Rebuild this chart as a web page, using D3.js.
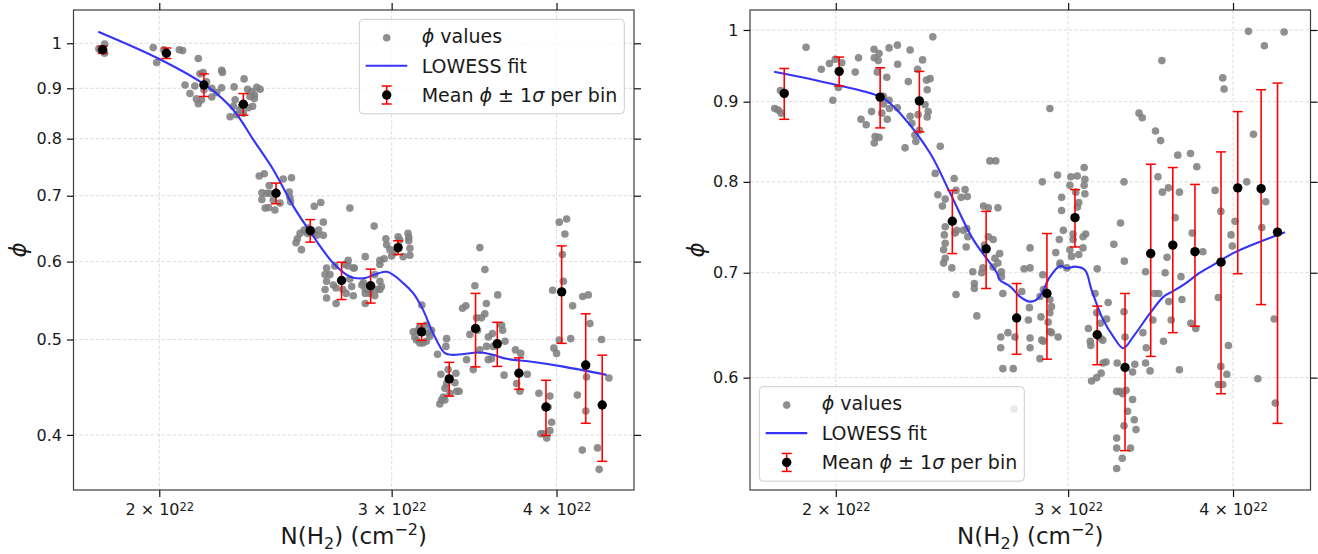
<!DOCTYPE html>
<html>
<head>
<meta charset="utf-8">
<script src="https://cdn.jsdelivr.net/npm/d3@7"></script>
<style>
  body { margin: 0; background: #fff; }
  text { font-family: "DejaVu Sans", sans-serif; }
</style>
</head>
<body>
<svg id="chart" width="1318" height="554"></svg>
<script>
// N(H2) in units of 1e22 cm^-2, phi dimensionless

var xTicks = [2, 3, 4];
var leftYTicks = [0.4, 0.5, 0.6, 0.7, 0.8, 0.9, 1];
var rightYTicks = [0.6, 0.7, 0.8, 0.9, 1];

// ---- left panel ----
var leftPoints = [
  [1.800,0.987],[1.818,0.998],[1.818,0.977],[1.805,0.985],
  [1.979,0.990],[1.991,0.956],[2.071,0.985],[2.083,0.983],[2.016,0.985],
  [2.141,0.965],[2.092,0.907],[2.110,0.889],[2.128,0.905],[2.147,0.931],[2.159,0.934],[2.153,0.876],[2.141,0.868],
  [2.172,0.914],[2.192,0.900],[2.192,0.882],[2.211,0.891],[2.230,0.939],[2.233,0.934],[2.230,0.901],[2.134,0.878],[2.162,0.897],
  [2.279,0.903],[2.319,0.920],[2.333,0.898],[2.371,0.902],[2.343,0.883],[2.361,0.886],[2.354,0.863],[2.336,0.860],
  [2.302,0.856],[2.283,0.876],[2.276,0.863],[2.263,0.842],[2.289,0.846],[2.316,0.849],[2.309,0.863],[2.361,0.879],[2.385,0.898],[2.350,0.893],
  [2.381,0.733],[2.402,0.737],[2.392,0.705],[2.423,0.717],[2.392,0.694],[2.406,0.680],[2.420,0.681],[2.447,0.677],[2.469,0.688],
  [2.483,0.728],[2.519,0.730],[2.509,0.706],[2.512,0.697],[2.515,0.690],[2.426,0.704],[2.440,0.693],[2.413,0.704],
  [2.621,0.683],[2.651,0.689],[2.663,0.658],[2.557,0.641],[2.545,0.633],[2.539,0.627],[2.563,0.617],[2.575,0.646],
  [2.590,0.641],[2.618,0.641],[2.641,0.646],[2.663,0.638],[2.633,0.638],[2.594,0.649],
  [2.789,0.680],[2.910,0.652],
  [2.678,0.591],[2.671,0.582],[2.678,0.573],[2.671,0.562],[2.678,0.551],[2.723,0.544],[2.723,0.564],[2.755,0.562],[2.771,0.557],
  [2.710,0.568],[2.806,0.591],[2.848,0.568],[2.865,0.562],[2.888,0.557],[2.913,0.554],[2.939,0.562],[2.939,0.573],[2.865,0.544],
  [2.806,0.554],[2.798,0.566],[2.789,0.576],[2.694,0.582],[2.781,0.594],[2.939,0.596],[2.913,0.582],[2.717,0.594],[2.765,0.596],
  [2.856,0.571],[2.865,0.557],[2.888,0.560],[2.921,0.562],[2.947,0.566],
  [2.970,0.633],[2.974,0.624],[2.991,0.617],[3.000,0.608],[2.961,0.604],[3.034,0.636],[3.043,0.631],[3.087,0.641],[3.091,0.635],
  [3.091,0.630],[3.097,0.619],[3.097,0.609],[3.061,0.607],[3.017,0.613],[2.939,0.602],[2.865,0.607],[2.781,0.602],[2.811,0.591],
  [3.499,0.620],[3.530,0.589],[4.019,0.658],[4.071,0.663],[4.059,0.640],[4.041,0.610],
  [3.142,0.511],[3.133,0.4995],[3.115,0.509],[3.187,0.498],[3.207,0.504],[3.216,0.511],[3.198,0.508],[3.162,0.542],[3.185,0.517],
  [3.124,0.503],[3.151,0.496],[3.169,0.496],[3.151,0.515],
  [3.302,0.501],[3.269,0.461],[3.292,0.446],[3.283,0.437],[3.263,0.430],[3.292,0.434],[3.321,0.441],[3.360,0.443],[3.375,0.443],
  [3.350,0.452],[3.356,0.462],[3.302,0.451],[3.250,0.483],[3.298,0.492],[3.273,0.434],[3.311,0.466],
  [3.469,0.567],[3.610,0.555],[3.415,0.541],[3.395,0.538],[3.530,0.531],[3.539,0.544],[3.509,0.526],[3.479,0.526],[3.439,0.506],
  [3.485,0.511],[3.551,0.503],[3.577,0.507],[3.635,0.517],[3.641,0.511],[3.656,0.498],[3.582,0.492],[3.499,0.488],[3.540,0.492],
  [3.551,0.477],[3.419,0.477],[3.459,0.466],[3.650,0.460],[3.571,0.478],[3.723,0.488],[3.758,0.484],[3.801,0.461],[3.731,0.451],[3.752,0.443],
  [3.879,0.441],[3.954,0.438],[3.942,0.427],[3.891,0.401],[3.966,0.412],[3.932,0.397],[3.954,0.404],[3.909,0.401],
  [3.973,0.561],[3.982,0.490],[4.000,0.484],[4.019,0.4995],[4.048,0.573],[4.100,0.501],[4.114,0.541],[4.148,0.439],
  [4.187,0.553],[4.228,0.555],[4.240,0.519],[4.215,0.458],[4.210,0.423],[4.184,0.386],[4.297,0.388],[4.309,0.369],
  [4.327,0.500],[4.383,0.457]
];
var leftBinN    = [1.812,2.025,2.162,2.316,2.452,2.603,2.749,2.892,3.034,3.161,3.317,3.473,3.607,3.746,3.927,4.036,4.209,4.332];
var leftBinMean = [0.985,0.977,0.907,0.867,0.704,0.645,0.574,0.567,0.620,0.509,0.456,0.513,0.495,0.462,0.427,0.559,0.471,0.429];
var leftBinStd  = [0.0085,0.012,0.024,0.022,0.017,0.017,0.025,0.0225,0.010,0.010,0.018,0.044,0.0255,0.017,0.0275,0.0635,0.060,0.053];
var leftFitN   = [1.798,2.002,2.172,2.276,2.357,2.441,2.528,2.618,2.710,2.790,2.856,2.974,3.061,3.115,3.169,3.225,3.292,3.340,3.499,3.582,3.667,3.819,4.048,4.365];
var leftFitPhi = [1.0275,0.9633,0.9050,0.8555,0.7977,0.7434,0.6823,0.6359,0.5976,0.5791,0.5770,0.5859,0.5706,0.5572,0.5359,0.5075,0.4843,0.4824,0.4850,0.4824,0.4779,0.4749,0.4693,0.4603];

// ---- right panel ----
var rightPoints = [
  [1.798,0.891],[1.809,0.889],[1.818,0.885],[1.816,0.915],
  [1.899,0.975],[1.950,0.944],[1.978,0.952],[1.998,0.958],[2.021,0.953],[2.009,0.919],[1.990,0.902],[2.069,0.940],[2.081,0.960],
  [2.138,0.972],[2.139,0.960],[2.157,0.966],[2.154,0.956],[2.150,0.940],[2.173,0.907],[2.173,0.897],[2.167,0.885],[2.129,0.887],
  [2.090,0.877],[2.109,0.870],[2.142,0.855],[2.139,0.847],[2.157,0.854],[2.188,0.877],[2.195,0.902],
  [2.227,0.978],[2.228,0.951],[2.195,0.974],[2.186,0.933],[2.227,0.892],[2.196,0.891],[2.257,0.841],[2.270,0.927],[2.277,0.971],
  [2.307,0.944],[2.327,0.957],[2.343,0.929],[2.346,0.916],[2.358,0.931],[2.337,0.896],[2.346,0.880],[2.350,0.887],[2.309,0.883],
  [2.314,0.863],[2.296,0.857],[2.300,0.849],[2.277,0.881],[2.284,0.872],[2.369,0.990],
  [2.400,0.843],[2.379,0.810],[2.390,0.785],[2.409,0.772],[2.421,0.780],[2.459,0.804],[2.467,0.790],[2.489,0.782],[2.506,0.791],
  [2.516,0.783],[2.421,0.749],[2.417,0.740],[2.421,0.731],[2.414,0.724],[2.421,0.715],[2.414,0.710],[2.449,0.705],[2.463,0.742],
  [2.470,0.745],[2.514,0.747],[2.518,0.738],[2.511,0.727],[2.499,0.745],
  [2.588,0.772],[2.610,0.770],[2.617,0.825],[2.644,0.825],[2.592,0.729],[2.610,0.738],[2.632,0.735],[2.640,0.715],[2.632,0.706],
  [2.654,0.710],[2.662,0.720],[2.670,0.701],[2.654,0.770],
  [2.467,0.678],[2.540,0.701],[2.547,0.689],[2.547,0.684],[2.558,0.657],[2.580,0.700],[2.585,0.705],[2.670,0.696],[2.677,0.679],
  [2.667,0.637],[2.667,0.627],[2.677,0.608],[2.701,0.641],
  [2.734,0.637],[2.726,0.608],[2.767,0.681],[2.778,0.704],[2.807,0.705],[2.870,0.698],[2.804,0.665],[2.799,0.653],[2.807,0.636],
  [2.807,0.627],[2.865,0.634],[2.873,0.633],[2.856,0.617],[2.861,0.656],[2.897,0.651],[2.906,0.642],[2.914,0.641],[2.948,0.637],
  [2.914,0.666],[2.906,0.673],[2.958,0.710],[2.906,0.660],[2.856,0.676],[2.873,0.683],
  [3.156,0.704],[3.144,0.679],[3.125,0.597],[3.153,0.600],[3.108,0.645],[3.118,0.633],[3.121,0.629],[3.173,0.636],[3.187,0.634],
  [3.178,0.604],[3.189,0.613],[3.205,0.614],[3.173,0.650],[3.208,0.654],[3.217,0.670],[3.153,0.660],
  [3.268,0.613],[3.265,0.588],[3.284,0.588],[3.300,0.586],[3.319,0.589],[3.357,0.581],[3.328,0.571],[3.307,0.559],[3.367,0.564],
  [3.377,0.556],[3.265,0.549],[3.265,0.541],[3.297,0.533],[3.265,0.525],[3.345,0.541],[3.313,0.637],[3.307,0.661],[3.357,0.605],[3.370,0.612],
  [3.438,0.627],[3.434,0.613],[3.461,0.606],[3.434,0.701],[3.418,0.641],[3.478,0.653],[3.488,0.679],[3.514,0.679],[3.543,0.633],
  [3.553,0.700],[3.576,0.671],[3.591,0.653],[3.643,0.607],[3.653,0.696],[3.659,0.673],[3.716,0.650],[3.748,0.645],
  [3.899,0.675],[3.916,0.610],[3.899,0.594],[3.929,0.594],[3.968,0.629],[3.957,0.603],[4.177,0.599],[4.298,0.654],[4.306,0.578],
  [2.906,0.891],[2.868,0.800],[2.945,0.808],[3.014,0.806],[3.048,0.807],[3.085,0.817],[3.089,0.803],[3.085,0.796],[3.009,0.796],
  [2.966,0.782],[3.040,0.788],[3.056,0.776],[2.966,0.767],[3.049,0.771],[3.089,0.786],[2.975,0.745],[2.954,0.735],[2.936,0.721],
  [3.026,0.741],[3.026,0.735],[3.009,0.724],[3.018,0.717],[3.056,0.719],[3.093,0.741],[3.079,0.738],[3.079,0.726],[2.958,0.708],
  [2.993,0.705],[2.807,0.726],[3.249,0.730],[3.287,0.753],[3.307,0.800],[3.309,0.712],
  [3.395,0.885],[3.414,0.879],[3.494,0.862],[3.525,0.850],[3.533,0.956],[3.509,0.806],[3.536,0.788],[3.574,0.793],[3.616,0.759],
  [3.643,0.788],[3.632,0.832],[3.714,0.834],[3.755,0.818],[3.725,0.742],[3.795,0.722],[3.565,0.716],
  [3.877,0.790],[3.916,0.766],[3.929,0.932],[3.938,0.917],[3.986,0.740],[3.995,0.728],[4.014,0.755],[4.097,0.800],[4.109,0.998],
  [4.145,0.858],[4.206,0.748],[4.225,0.977],[4.235,0.777],[4.373,0.997],
  [2.730,0.573]
];
var rightBinN    = [1.828,2.012,2.161,2.314,2.451,2.600,2.742,2.891,3.036,3.156,3.313,3.465,3.601,3.743,3.917,4.033,4.201,4.323];
var rightBinMean = [0.911,0.941,0.906,0.901,0.755,0.725,0.655,0.679,0.759,0.639,0.609,0.720,0.729,0.722,0.711,0.793,0.792,0.743];
var rightBinStd  = [0.034,0.020,0.040,0.040,0.035,0.041,0.034,0.0625,0.032,0.0275,0.070,0.101,0.088,0.075,0.125,0.094,0.124,0.182];
var rightFitN   = [1.796,2.003,2.173,2.249,2.358,2.442,2.543,2.649,2.662,2.712,2.758,2.807,2.848,2.907,2.958,2.993,3.036,3.089,3.125,3.189,3.246,3.303,3.361,3.461,3.544,3.597,3.668,3.776,3.865,4.001,4.193,4.380];
var rightFitPhi = [0.9406,0.9224,0.9045,0.8804,0.8343,0.7867,0.7346,0.7000,0.6927,0.6859,0.6759,0.6709,0.6743,0.6960,0.7070,0.7046,0.7063,0.7029,0.6826,0.6533,0.6373,0.6265,0.6373,0.6596,0.6759,0.6808,0.6876,0.7000,0.7081,0.7204,0.7327,0.7429];

var xDomain = [1.722, 4.579];
var plotTop = 10, plotBottom = 490;

var svg = d3.select('#chart');

var panels = [
  { xRange: [73.5, 634], yDomain: [0.3516, 1.081], yTicks: leftYTicks, points: leftPoints,
    binN: leftBinN, binMean: leftBinMean, binStd: leftBinStd, fitN: leftFitN, fitPhi: leftFitPhi,
    legend: [359.3, 19.3], ylabelX: 19 },
  { xRange: [750, 1310.5], yDomain: [0.5087, 1.0298], yTicks: rightYTicks, points: rightPoints,
    binN: rightBinN, binMean: rightBinMean, binStd: rightBinStd, fitN: rightFitN, fitPhi: rightFitPhi,
    legend: [759.3, 386.7], ylabelX: 697 }
];

drawPanel = (p) => {
  var x = d3.scaleLog().domain(xDomain).range(p.xRange);
  var y = d3.scaleLog().domain(p.yDomain).range([plotBottom, plotTop]);
  var left = p.xRange[0], right = p.xRange[1];
  var g = svg.append('g');

  // dashed grid
  g.append('g').selectAll('line').data(xTicks).enter().append('line')
    .attr('x1', d => x(d)).attr('x2', d => x(d)).attr('y1', plotTop).attr('y2', plotBottom)
    .attr('stroke', '#d4d4d4').attr('stroke-width', 0.8).attr('stroke-dasharray', '3.5,2');
  g.append('g').selectAll('line').data(p.yTicks).enter().append('line')
    .attr('x1', left).attr('x2', right).attr('y1', d => y(d)).attr('y2', d => y(d))
    .attr('stroke', '#d4d4d4').attr('stroke-width', 0.8).attr('stroke-dasharray', '3.5,2');

  // phi values
  g.append('g').selectAll('circle').data(p.points).enter().append('circle')
    .attr('cx', d => x(d[0])).attr('cy', d => y(d[1])).attr('r', 3.8)
    .attr('fill', '#808080').attr('fill-opacity', 0.88);

  // LOWESS fit
  var line = d3.line()
    .x(d => x(d[0])).y(d => y(d[1]))
    .curve(d3.curveCatmullRom.alpha(0.5));
  g.append('path')
    .datum(p.fitN.map((n, i) => [n, p.fitPhi[i]]))
    .attr('d', line).attr('fill', 'none')
    .attr('stroke', '#3434f6').attr('stroke-width', 2.1);

  // mean +- 1 sigma per bin
  var bins = p.binN.map((n, i) => ({ n: n, m: p.binMean[i], s: p.binStd[i] }));
  var eb = g.append('g').selectAll('g').data(bins).enter().append('g');
  eb.append('line')
    .attr('x1', d => x(d.n)).attr('x2', d => x(d.n))
    .attr('y1', d => y(d.m - d.s)).attr('y2', d => y(d.m + d.s))
    .attr('stroke', 'red').attr('stroke-width', 1.6);
  [-1, 1].forEach(k => {
    eb.append('line')
      .attr('x1', d => x(d.n) - 5).attr('x2', d => x(d.n) + 5)
      .attr('y1', d => y(d.m + k * d.s)).attr('y2', d => y(d.m + k * d.s))
      .attr('stroke', 'red').attr('stroke-width', 1.5);
  });
  eb.append('circle')
    .attr('cx', d => x(d.n)).attr('cy', d => y(d.m)).attr('r', 4.7).attr('fill', 'black');

  // frame
  g.append('rect')
    .attr('x', left).attr('y', plotTop).attr('width', right - left).attr('height', plotBottom - plotTop)
    .attr('fill', 'none').attr('stroke', '#3c3c3c').attr('stroke-width', 1.2);

  // ticks on all four sides
  var xb = g.append('g').attr('transform', 'translate(0,' + plotBottom + ')')
    .call(d3.axisBottom(x).tickValues(xTicks).tickSize(7).tickSizeOuter(0).tickPadding(7).tickFormat(''));
  var xt = g.append('g').attr('transform', 'translate(0,' + plotTop + ')')
    .call(d3.axisTop(x).tickValues(xTicks).tickSize(7).tickSizeOuter(0).tickFormat(''));
  var yl = g.append('g').attr('transform', 'translate(' + left + ',0)')
    .call(d3.axisLeft(y).tickValues(p.yTicks).tickSize(6.5).tickSizeOuter(0).tickPadding(5)
      .tickFormat(d => d === 1 ? '1' : d.toFixed(1)));
  var yr = g.append('g').attr('transform', 'translate(' + right + ',0)')
    .call(d3.axisRight(y).tickValues(p.yTicks).tickSize(7).tickSizeOuter(0).tickFormat(''));
  [xb, xt, yl, yr].forEach(a => {
    a.select('.domain').remove();
    a.selectAll('.tick line').attr('stroke', '#111').attr('stroke-width', 1.2);
    a.selectAll('text').attr('font-size', 16).attr('font-family', '"DejaVu Sans", sans-serif').attr('fill', '#1a1a1a');
  });
  xb.selectAll('.tick text').each(function(d) {
    var t = d3.select(this).text(null);
    t.append('tspan').text(d + ' \u00d7 10');
    t.append('tspan').attr('dy', '-0.42em').attr('font-size', 11.5).text('22');
  });

  // axis labels
  var xl = g.append('text')
    .attr('x', (left + right) / 2).attr('y', 544)
    .attr('text-anchor', 'middle').attr('font-size', 23).attr('fill', '#1a1a1a');
  xl.append('tspan').text('N(H');
  xl.append('tspan').attr('dy', 5).attr('font-size', 16).text('2');
  xl.append('tspan').attr('dy', -5).text(') (cm');
  xl.append('tspan').attr('dy', -9).attr('font-size', 16).text('\u22122');
  xl.append('tspan').attr('dy', 9).text(')');

  g.append('text')
    .attr('transform', 'translate(' + (p.ylabelX + 7) + ',' + ((plotTop + plotBottom) / 2) + ') rotate(-90)')
    .attr('text-anchor', 'middle').attr('font-size', 23).attr('font-style', 'italic')
    .attr('fill', '#1a1a1a').text('\u03d5');

  // legend
  var lx = p.legend[0], ly = p.legend[1];
  var lg = g.append('g');
  lg.append('rect')
    .attr('x', lx).attr('y', ly).attr('width', 265).attr('height', 94.5).attr('rx', 4)
    .attr('fill', 'white').attr('fill-opacity', 0.8).attr('stroke', '#cccccc').attr('stroke-width', 1);
  var mx = lx + 27.4, tx = lx + 62.4;
  lg.append('circle').attr('cx', mx).attr('cy', ly + 18.4).attr('r', 3.8).attr('fill', '#808080').attr('fill-opacity', 0.88);
  lg.append('line').attr('x1', lx + 6.4).attr('x2', lx + 48).attr('y1', ly + 46.4).attr('y2', ly + 46.4)
    .attr('stroke', '#3434f6').attr('stroke-width', 2.1);
  var ey = ly + 75.7;
  lg.append('line').attr('x1', mx).attr('x2', mx).attr('y1', ey - 9).attr('y2', ey + 9).attr('stroke', 'red').attr('stroke-width', 1.6);
  [-9, 9].forEach(o => lg.append('line').attr('x1', mx - 5).attr('x2', mx + 5).attr('y1', ey + o).attr('y2', ey + o)
    .attr('stroke', 'red').attr('stroke-width', 1.5));
  lg.append('circle').attr('cx', mx).attr('cy', ey).attr('r', 4.7).attr('fill', 'black');

  var t1 = lg.append('text').attr('x', tx).attr('y', ly + 23.4).attr('font-size', 19).attr('fill', '#1a1a1a');
  t1.append('tspan').attr('font-style', 'italic').text('\u03d5');
  t1.append('tspan').text(' values');
  lg.append('text').attr('x', tx).attr('y', ly + 53.4).attr('font-size', 19).attr('fill', '#1a1a1a').text('LOWESS fit');
  var t3 = lg.append('text').attr('x', tx).attr('y', ly + 82.4).attr('font-size', 19).attr('fill', '#1a1a1a');
  t3.append('tspan').text('Mean ');
  t3.append('tspan').attr('font-style', 'italic').text('\u03d5');
  t3.append('tspan').text(' \u00b1 1');
  t3.append('tspan').attr('font-style', 'italic').text('\u03c3');
  t3.append('tspan').text(' per bin');
};

panels.forEach(drawPanel);
</script>
</body>
</html>
